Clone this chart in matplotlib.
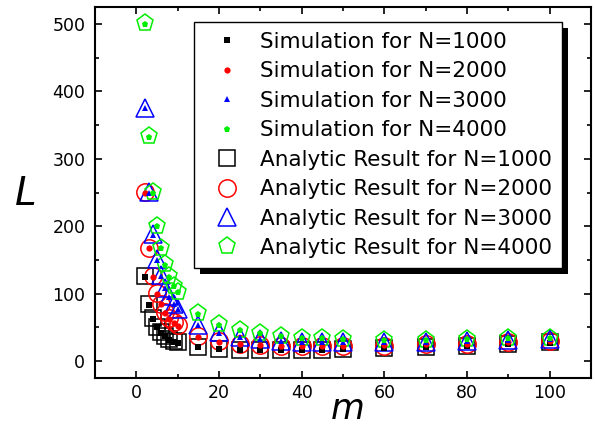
import matplotlib
matplotlib.use("Agg")
import matplotlib.pyplot as plt
from matplotlib.patches import Rectangle
from matplotlib.transforms import IdentityTransform
from matplotlib.ticker import MultipleLocator

plt.rcParams['font.family'] = ['DejaVu Sans']

m = [2, 3, 4, 5, 6, 7, 8, 9, 10, 15, 20, 25, 30, 35, 40, 45, 50, 60, 70, 80, 90, 100]

ana_1000 = [126, 84, 64, 51, 43, 38, 33, 30, 28, 21, 18, 17, 16, 16, 16, 17, 18, 19, 21, 23, 25, 28]
ana_2000 = [251, 168, 126, 101, 85, 73, 64, 58, 53, 37, 30, 26, 24, 23, 22, 22, 23, 23, 25, 26, 28, 30]
ana_3000 = [376, 251, 188, 151, 127, 109, 96, 85, 78, 54, 43, 36, 33, 30, 29, 28, 28, 28, 29, 30, 31, 33]
ana_4000 = [501, 334, 251, 201, 168, 144, 126, 112, 103, 71, 55, 46, 41, 38, 35, 34, 33, 32, 32, 33, 34, 35]

sim_1000 = [125, 83, 63, 50, 42, 37, 32, 29, 27, 21, 18, 16, 16, 16, 16, 17, 18, 19, 21, 22, 25, 27]
sim_2000 = [250, 167, 125, 100, 84, 72, 63, 57, 52, 36, 29, 26, 24, 23, 22, 22, 23, 24, 25, 26, 28, 30]
sim_3000 = [375, 250, 187, 150, 126, 108, 95, 84, 77, 53, 42, 36, 33, 30, 29, 28, 28, 28, 29, 30, 32, 33]
sim_4000 = [500, 333, 250, 200, 167, 143, 125, 111, 102, 70, 54, 46, 41, 38, 35, 34, 33, 32, 32, 33, 34, 35]

labels_sim = ['Simulation for N=1000', 'Simulation for N=2000',
              'Simulation for N=3000', 'Simulation for N=4000']
labels_ana = ['Analytic Result for N=1000', 'Analytic Result for N=2000',
              'Analytic Result for N=3000', 'Analytic Result for N=4000']
colors = ['black', 'red', 'blue', '#00ee00']

fig = plt.figure(figsize=(5.95, 4.26), dpi=100)
ax = fig.add_axes([95/595, 1-378/426, (591-95)/595, (378-7)/426])

sims = [sim_1000, sim_2000, sim_3000, sim_4000]
anas = [ana_1000, ana_2000, ana_3000, ana_4000]
sim_markers = ['s', 'o', '^', 'p']
ana_markers = ['s', 'o', '^', 'p']
sim_sizes = [4, 4.5, 5, 5]
ana_sizes = [11, 12.5, 13, 12.5]

handles = []
for y, mk, ms, c, lab in zip(sims, sim_markers, sim_sizes, colors, labels_sim):
    h, = ax.plot(m, y, linestyle='none', marker=mk, markersize=ms, color=c,
                 markeredgewidth=0, label=lab, zorder=3)
    handles.append(h)
for y, mk, ms, c, lab in zip(anas, ana_markers, ana_sizes, colors, labels_ana):
    h, = ax.plot(m, y, linestyle='none', marker=mk, markersize=ms,
                 markerfacecolor='none', markeredgecolor=c, markeredgewidth=1.1,
                 label=lab, zorder=2)
    handles.append(h)

ax.set_xlim(-10, 110)
ax.set_ylim(-25, 525)
ax.xaxis.set_major_locator(MultipleLocator(20))
ax.xaxis.set_minor_locator(MultipleLocator(10))
ax.yaxis.set_major_locator(MultipleLocator(100))
ax.yaxis.set_minor_locator(MultipleLocator(50))
ax.tick_params(which='both', direction='in', top=True, right=True, width=1.2,
               labelsize=12.5)
ax.tick_params(which='major', length=5)
ax.tick_params(which='minor', length=3)
ax.tick_params(axis='y', pad=7)
ax.tick_params(axis='x', pad=4)
for s in ax.spines.values():
    s.set_linewidth(1.5)

leg = ax.legend(handles=handles, loc='upper right',
                bbox_to_anchor=((562-95)/(591-95), 1-(22-7)/(378-7)),
                borderaxespad=0, fontsize=15.5, labelspacing=0.44,
                handletextpad=0.45, handlelength=2.2, borderpad=0.45,
                fancybox=False, frameon=True, edgecolor='black',
                facecolor='white', framealpha=1.0, markerscale=1.0)
leg.get_frame().set_linewidth(1.0)

fig.text(26/595, 1-194/426, 'L', fontsize=28, fontstyle='italic',
         ha='center', va='center')
fig.text(348/595, 1-419/426, 'm', fontsize=25, fontstyle='italic',
         ha='center', va='baseline')

fig.canvas.draw()
bb = leg.get_window_extent()
shadow = Rectangle((bb.x0 + 6, bb.y0 - 6), bb.width, bb.height,
                   transform=IdentityTransform(), facecolor='black',
                   edgecolor='none', zorder=4.9)
ax.add_patch(shadow)
leg.set_zorder(5)

fig.savefig('out.png', dpi=100)
